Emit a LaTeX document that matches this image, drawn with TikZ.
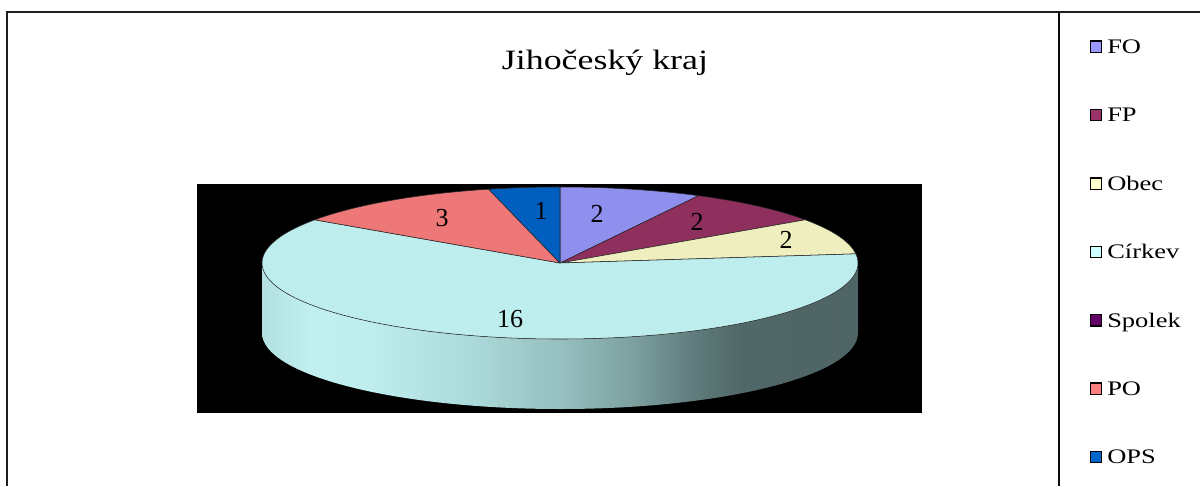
\documentclass[tikz,border=0pt]{standalone}
\usepackage{fontspec}
\setmainfont{Liberation Serif}
\newfontfamily\widefont[FakeStretch=1.28]{Liberation Serif}

% shading for the rim of the pie
\pgfdeclarehorizontalshading{rimshade}{100bp}{rgb(0bp)=(0.70,0.88,0.88); rgb(25bp)=(0.70,0.88,0.88); rgb(29bp)=(0.76,0.94,0.94); rgb(34bp)=(0.75,0.93,0.93); rgb(42bp)=(0.68,0.86,0.86); rgb(50bp)=(0.59,0.75,0.75); rgb(56bp)=(0.49,0.63,0.63); rgb(61bp)=(0.38,0.49,0.49); rgb(65bp)=(0.32,0.41,0.41); rgb(75bp)=(0.31,0.39,0.39); rgb(100bp)=(0.31,0.39,0.39)}

\begin{document}
\begin{tikzpicture}[x=0.75pt,y=0.75pt,yscale=-1,xscale=1,
  slice/.style={draw={rgb, 255:red, 40; green, 40; blue, 40 }, line width=0.4pt, line join=round},
  pielabel/.style={inner sep=0.75pt, font=\fontsize{19.5}{20}\selectfont},
  keybox/.style={draw=black, line width=1pt, minimum size=8.5pt, inner sep=0pt},
  keytext/.style={anchor=base west, inner sep=0.75pt, font=\widefont\fontsize{15.5}{17}\selectfont}]
\useasboundingbox (0,0) rectangle (1200,486);
\fill [white] (0,0) rectangle (1200,486);

%Shape: Rectangle [plot area]
\fill [black] (197,184) rectangle (922,413);

%Shape: Rim [Církev]
\shade [shading=rimshade] (858,263) -- (858,333) arc [start angle=0, end angle=180, x radius=298, y radius=76] -- (262,263) arc [start angle=180, end angle=0, x radius=298, y radius=76] -- cycle;

\coordinate (pc) at (560,263);
%Shape: Sector [FO]
\draw [slice, fill={rgb, 255:red, 143; green, 143; blue, 238 }] (pc) -- ++(-90:298 and 76) arc [start angle=-90, end angle=-62.31, x radius=298, y radius=76] -- cycle;
%Shape: Sector [FP]
\draw [slice, fill={rgb, 255:red, 142; green, 47; blue, 94 }] (pc) -- ++(-62.31:298 and 76) arc [start angle=-62.31, end angle=-34.62, x radius=298, y radius=76] -- cycle;
%Shape: Sector [Obec]
\draw [slice, fill={rgb, 255:red, 238; green, 238; blue, 190 }] (pc) -- ++(-34.62:298 and 76) arc [start angle=-34.62, end angle=-6.92, x radius=298, y radius=76] -- cycle;
%Shape: Sector [Církev]
\draw [slice, fill={rgb, 255:red, 189; green, 237; blue, 237 }] (pc) -- ++(-6.92:298 and 76) arc [start angle=-6.92, end angle=214.62, x radius=298, y radius=76] -- cycle;
%Shape: Sector [PO]
\draw [slice, fill={rgb, 255:red, 238; green, 119; blue, 119 }] (pc) -- ++(214.62:298 and 76) arc [start angle=214.62, end angle=256.15, x radius=298, y radius=76] -- cycle;
%Shape: Sector [OPS]
\draw [slice, fill={rgb, 255:red, 0; green, 95; blue, 190 }] (pc) -- ++(256.15:298 and 76) arc [start angle=256.15, end angle=270, x radius=298, y radius=76] -- cycle;

% Text Node
\node (nFO) [pielabel] at (597,214) {2};
\node (nFP) [pielabel] at (697,222) {2};
\node (nObec) [pielabel] at (786,240) {2};
\node (nCirkev) [pielabel] at (510,319) {16};
\node (nPO) [pielabel] at (442,218) {3};
\node (nOPS) [pielabel] at (541,211) {1};

% Text Node
\node (title) [anchor=base, inner sep=0.75pt, font=\widefont\fontsize{21}{24}\selectfont] at (605,69) {Jihočeský kraj};

%Straight Lines [frame]
\draw [line width=1.5pt, color={rgb, 255:red, 30; green, 30; blue, 30 }] (6.5,486) -- (6.5,11.5) -- (1200,11.5);
\draw [line width=1.5pt, color={rgb, 255:red, 10; green, 10; blue, 10 }] (1058.5,11.5) -- (1058.5,486);

%Shape: Legend
\node (kFO) [keybox, fill={rgb, 255:red, 153; green, 153; blue, 255 }] at (1096,46.7) {};
\node (kFP) [keybox, fill={rgb, 255:red, 153; green, 51; blue, 102 }] at (1096,115.1) {};
\node (kObec) [keybox, fill={rgb, 255:red, 255; green, 255; blue, 204 }] at (1096,183.5) {};
\node (kCirkev) [keybox, fill={rgb, 255:red, 204; green, 255; blue, 255 }] at (1096,251.9) {};
\node (kSpolek) [keybox, fill={rgb, 255:red, 102; green, 0; blue, 102 }] at (1096,320.3) {};
\node (kPO) [keybox, fill={rgb, 255:red, 255; green, 128; blue, 128 }] at (1096,388.7) {};
\node (kOPS) [keybox, fill={rgb, 255:red, 0; green, 102; blue, 204 }] at (1096,457.1) {};
% Text Node
\node (tFO) [keytext] at (1106,53.4) {FO};
\node (tFP) [keytext] at (1106,121.8) {FP};
\node (tObec) [keytext] at (1106,190.2) {Obec};
\node (tCirkev) [keytext] at (1106,258.6) {Církev};
\node (tSpolek) [keytext] at (1106,327) {Spolek};
\node (tPO) [keytext] at (1106,395.4) {PO};
\node (tOPS) [keytext] at (1106,463.8) {OPS};

\end{tikzpicture}
\end{document}
